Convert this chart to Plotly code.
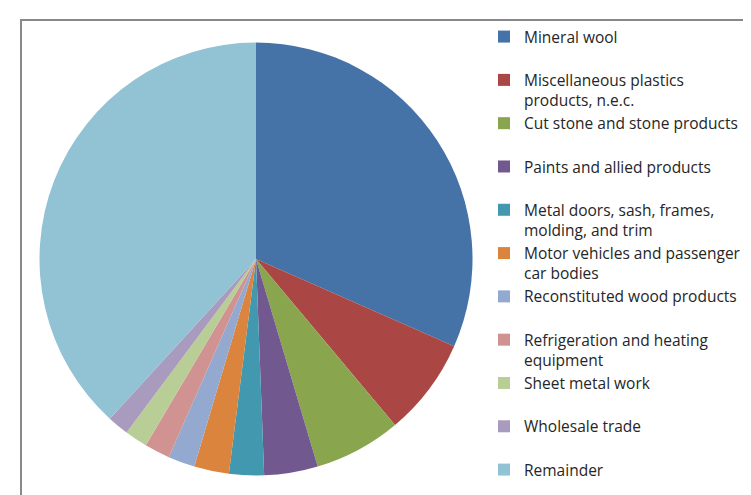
import plotly.graph_objects as go

W, H = 751, 495

labels = [
    "Mineral wool",
    "Miscellaneous plastics<br>products, n.e.c.",
    "Cut stone and stone products",
    "Paints and allied products",
    "Metal doors, sash, frames,<br>molding, and trim",
    "Motor vehicles and passenger<br>car bodies",
    "Reconstituted wood products",
    "Refrigeration and heating<br>equipment",
    "Sheet metal work",
    "Wholesale trade",
    "Remainder",
]
values = [31.6, 7.3, 6.5, 4.0, 2.6, 2.6, 2.0, 1.9, 1.7, 1.6, 38.2]
colors = ["#4572A7", "#AA4643", "#89A54E", "#71588F", "#4198AF", "#DB843D",
          "#93A9CF", "#D19392", "#B9CD96", "#A99BBD", "#92C3D4"]

# make legend entries two lines tall so they are evenly spaced (last one may stay single)
legend_labels = [l if ("<br>" in l or i == len(labels) - 1) else l + "<br> "
                 for i, l in enumerate(labels)]

cx, cy, r = 248, 251, 216.5

fig = go.Figure(go.Pie(
    labels=legend_labels,
    values=values,
    marker=dict(colors=colors, line=dict(width=0)),
    sort=False,
    direction="clockwise",
    rotation=0,
    textinfo="none",
    domain=dict(x=[(cx - r) / W, (cx + r) / W], y=[1 - (cy + r) / H, 1 - (cy - r) / H]),
))

fig.add_shape(type="rect", xref="paper", yref="paper",
              x0=13 / W, x1=1.2, y0=-0.2, y1=1 - 12 / H,
              line=dict(color="#898989", width=2), fillcolor="rgba(0,0,0,0)")

fig.update_layout(
    width=W, height=H,
    margin=dict(l=0, r=0, t=0, b=0),
    paper_bgcolor="white",
    plot_bgcolor="white",
    showlegend=True,
    legend=dict(
        x=476 / W, xanchor="left",
        y=1 - 12 / H, yanchor="top",
        valign="top",
        font=dict(family="Open Sans", size=15.5, color="#262626"),
        bgcolor="rgba(0,0,0,0)",
        borderwidth=0,
    ),
)

fig.write_html("out.html")
